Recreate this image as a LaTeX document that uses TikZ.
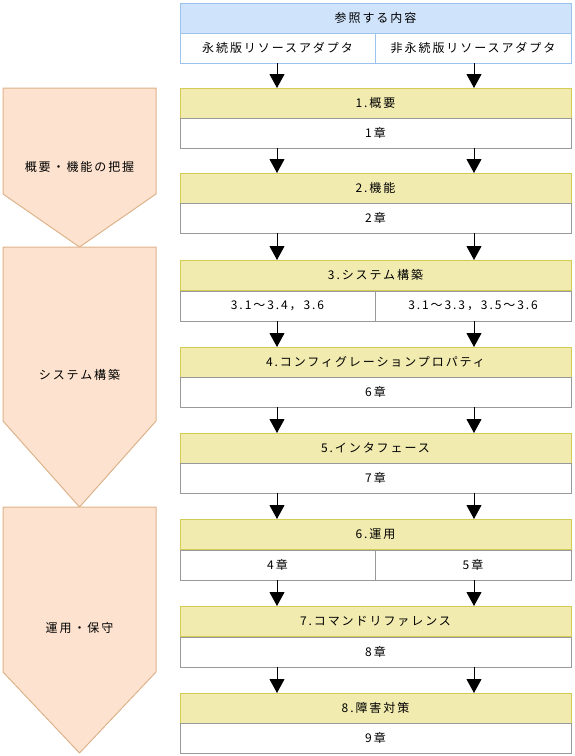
\documentclass[tikz,border=0pt]{standalone}
\usepackage{fontspec}
\newfontfamily\jp[LetterSpace=16]{Noto Sans CJK JP}
\usetikzlibrary{arrows.meta}
\definecolor{bluefill}{HTML}{CFE3FB}
\definecolor{blueline}{HTML}{9CC3EE}
\definecolor{yelfill}{HTML}{F1EBB0}
\definecolor{yelline}{HTML}{D4CB57}
\definecolor{grayline}{HTML}{999999}
\definecolor{peachfill}{HTML}{FDE3CF}
\definecolor{peachline}{HTML}{DDB38C}
\tikzset{
  base/.style={rectangle, inner sep=0pt, outer sep=0pt, anchor=north west, minimum height=30pt, line width=1pt, font=\jp\fontsize{12}{14}\selectfont, text=black},
  hdr/.style={base, draw=yelline, fill=yelfill, minimum width=391pt},
  bhdr/.style={base, draw=blueline, fill=bluefill, minimum width=391pt},
  full/.style={base, draw=grayline, fill=white, minimum width=391pt},
  halfL/.style={base, draw=grayline, fill=white, minimum width=195pt},
  halfR/.style={base, draw=grayline, fill=white, minimum width=196pt},
  bhalfL/.style={base, draw=blueline, fill=white, minimum width=195pt},
  bhalfR/.style={base, draw=blueline, fill=white, minimum width=196pt},
  arr/.style={line width=1pt, -{Triangle[width=15pt,length=14pt]}},
  pent/.style={draw=peachline, fill=peachfill, line width=1pt},
  plabel/.style={font=\jp\fontsize{12}{14}\selectfont, inner sep=0pt}
}
\begin{document}
\begin{tikzpicture}[x=1pt,y=-1pt]
\useasboundingbox (0,0) rectangle (574,756);
\coordinate (L) at (277,0);
\coordinate (R) at (474,0);
% left phase pentagons
\draw[pent] (3,88) -- (156,88) -- (156,194) -- (79.5,247) -- (3,194) -- cycle;
\draw[pent] (3,247) -- (156,247) -- (156,421) -- (79.5,507) -- (3,421) -- cycle;
\draw[pent] (3,507) -- (156,507) -- (156,672) -- (79.5,753) -- (3,672) -- cycle;
\node[plabel] (p1) at (79.5,167) {概要・機能の把握};
\node[plabel] (p2) at (79.5,375) {システム構築};
\node[plabel] (p3) at (79.5,628) {運用・保守};
% top box
\node[bhdr] (h0) at (180,3) {参照する内容};
\node[bhalfL] (w0l) at (180,33) {永続版リソースアダプタ};
\node[bhalfR] (w0r) at (375,33) {非永続版リソースアダプタ};
% boxes
\node[hdr] (h1) at (180,88) {1.概要};
\node[full] (w1) at (180,118) {1章};
\node[hdr] (h2) at (180,173) {2.機能};
\node[full] (w2) at (180,203) {2章};
\node[hdr] (h3) at (180,260) {3.システム構築};
\node[halfL] (w3l) at (180,291) {3.1～3.4，3.6};
\node[halfR] (w3r) at (375,291) {3.1～3.3，3.5～3.6};
\node[hdr] (h4) at (180,347) {4.コンフィグレーションプロパティ};
\node[full] (w4) at (180,377) {6章};
\node[hdr] (h5) at (180,433) {5.インタフェース};
\node[full] (w5) at (180,463) {7章};
\node[hdr] (h6) at (180,519) {6.運用};
\node[halfL] (w6l) at (180,550) {4章};
\node[halfR] (w6r) at (375,550) {5章};
\node[hdr] (h7) at (180,606) {7.コマンドリファレンス};
\node[full] (w7) at (180,637) {8章};
\node[hdr] (h8) at (180,693) {8.障害対策};
\node[full] (w8) at (180,723) {9章};
% arrows
\draw[arr] (w0l.south -| L) -- (h1.north -| L);
\draw[arr] (w0r.south -| R) -- (h1.north -| R);
\draw[arr] (w1.south -| L) -- (h2.north -| L);
\draw[arr] (w1.south -| R) -- (h2.north -| R);
\draw[arr] (w2.south -| L) -- (h3.north -| L);
\draw[arr] (w2.south -| R) -- (h3.north -| R);
\draw[arr] (w3l.south -| L) -- (h4.north -| L);
\draw[arr] (w3r.south -| R) -- (h4.north -| R);
\draw[arr] (w4.south -| L) -- (h5.north -| L);
\draw[arr] (w4.south -| R) -- (h5.north -| R);
\draw[arr] (w5.south -| L) -- (h6.north -| L);
\draw[arr] (w5.south -| R) -- (h6.north -| R);
\draw[arr] (w6l.south -| L) -- (h7.north -| L);
\draw[arr] (w6r.south -| R) -- (h7.north -| R);
\draw[arr] (w7.south -| L) -- (h8.north -| L);
\draw[arr] (w7.south -| R) -- (h8.north -| R);
\end{tikzpicture}
\end{document}
